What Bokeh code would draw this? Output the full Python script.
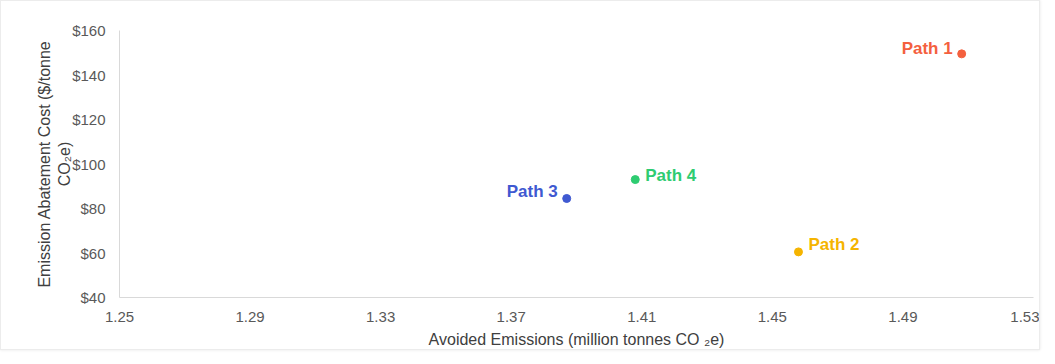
from bokeh.plotting import figure
from bokeh.models import Range1d, FixedTicker, NumeralTickFormatter, ColumnDataSource
from bokeh.embed import file_html
from bokeh.resources import INLINE
from bokeh.core.properties import value

# Data
paths = ["Path 1", "Path 2", "Path 3", "Path 4"]
avoided = [1.508, 1.458, 1.387, 1.408]
cost = [149.5, 60.5, 84.5, 93.0]
colors = ["#F4603E", "#F5B400", "#3F59D1", "#2ECC71"]
x_ticks = [1.25, 1.29, 1.33, 1.37, 1.41, 1.45, 1.49, 1.53]
y_ticks = [40, 60, 80, 100, 120, 140, 160]

# label placement (styling)
label_align = ["right", "left", "right", "left"]
label_dx = [-9, 10, -9, 10]
label_dy = [4, 2, 3, 5]

src = ColumnDataSource(dict(x=avoided, y=cost, name=paths, color=colors,
                            align=label_align, dx=label_dx, dy=label_dy))

p = figure(width=1040, height=350, output_backend="svg", toolbar_location=None,
           x_range=Range1d(1.25, 1.53), y_range=Range1d(40, 160),
           min_border_left=118, min_border_right=8, min_border_top=29, min_border_bottom=54)
p.styles = {"border": "1px solid #ececec", "box-shadow": "0 0 3px #e6e6e6"}

p.outline_line_color = None
p.xgrid.visible = False
p.ygrid.visible = False

FONT = "Liberation Sans"
for ax in (p.xaxis[0], p.yaxis[0]):
    ax.axis_line_color = "#d9d9d9"
    ax.axis_line_width = 1
    ax.major_tick_line_color = None
    ax.minor_tick_line_color = None
    ax.major_label_text_font = FONT
    ax.major_label_text_font_size = "15px"
    ax.major_label_text_color = "#595959"
    ax.axis_label_text_font = FONT
    ax.axis_label_text_font_size = "16px"
    ax.axis_label_text_font_style = "normal"
    ax.axis_label_text_color = "#404040"

p.xaxis.ticker = FixedTicker(ticks=x_ticks)
p.xaxis.formatter = NumeralTickFormatter(format="0.00")
p.xaxis.major_label_standoff = 8
p.xaxis.axis_label = "Avoided Emissions (million tonnes CO \u2082e)"
p.xaxis.axis_label_standoff = 6

p.yaxis.ticker = FixedTicker(ticks=y_ticks)
p.yaxis.formatter = NumeralTickFormatter(format="$0")
p.yaxis.major_label_standoff = 8
p.yaxis.axis_label = "Emission Abatement Cost ($/tonne\nCO\u2082e)"
p.yaxis.axis_label_standoff = -4

p.scatter("x", "y", source=src, size=8, color="color", line_color="color")
p.text("x", "y", text="name", source=src, text_color="color", text_align="align",
       x_offset="dx", y_offset="dy", text_baseline="bottom",
       text_font=value(FONT), text_font_size="17px", text_font_style="bold")

open("out.html", "w").write(file_html(p, INLINE))
